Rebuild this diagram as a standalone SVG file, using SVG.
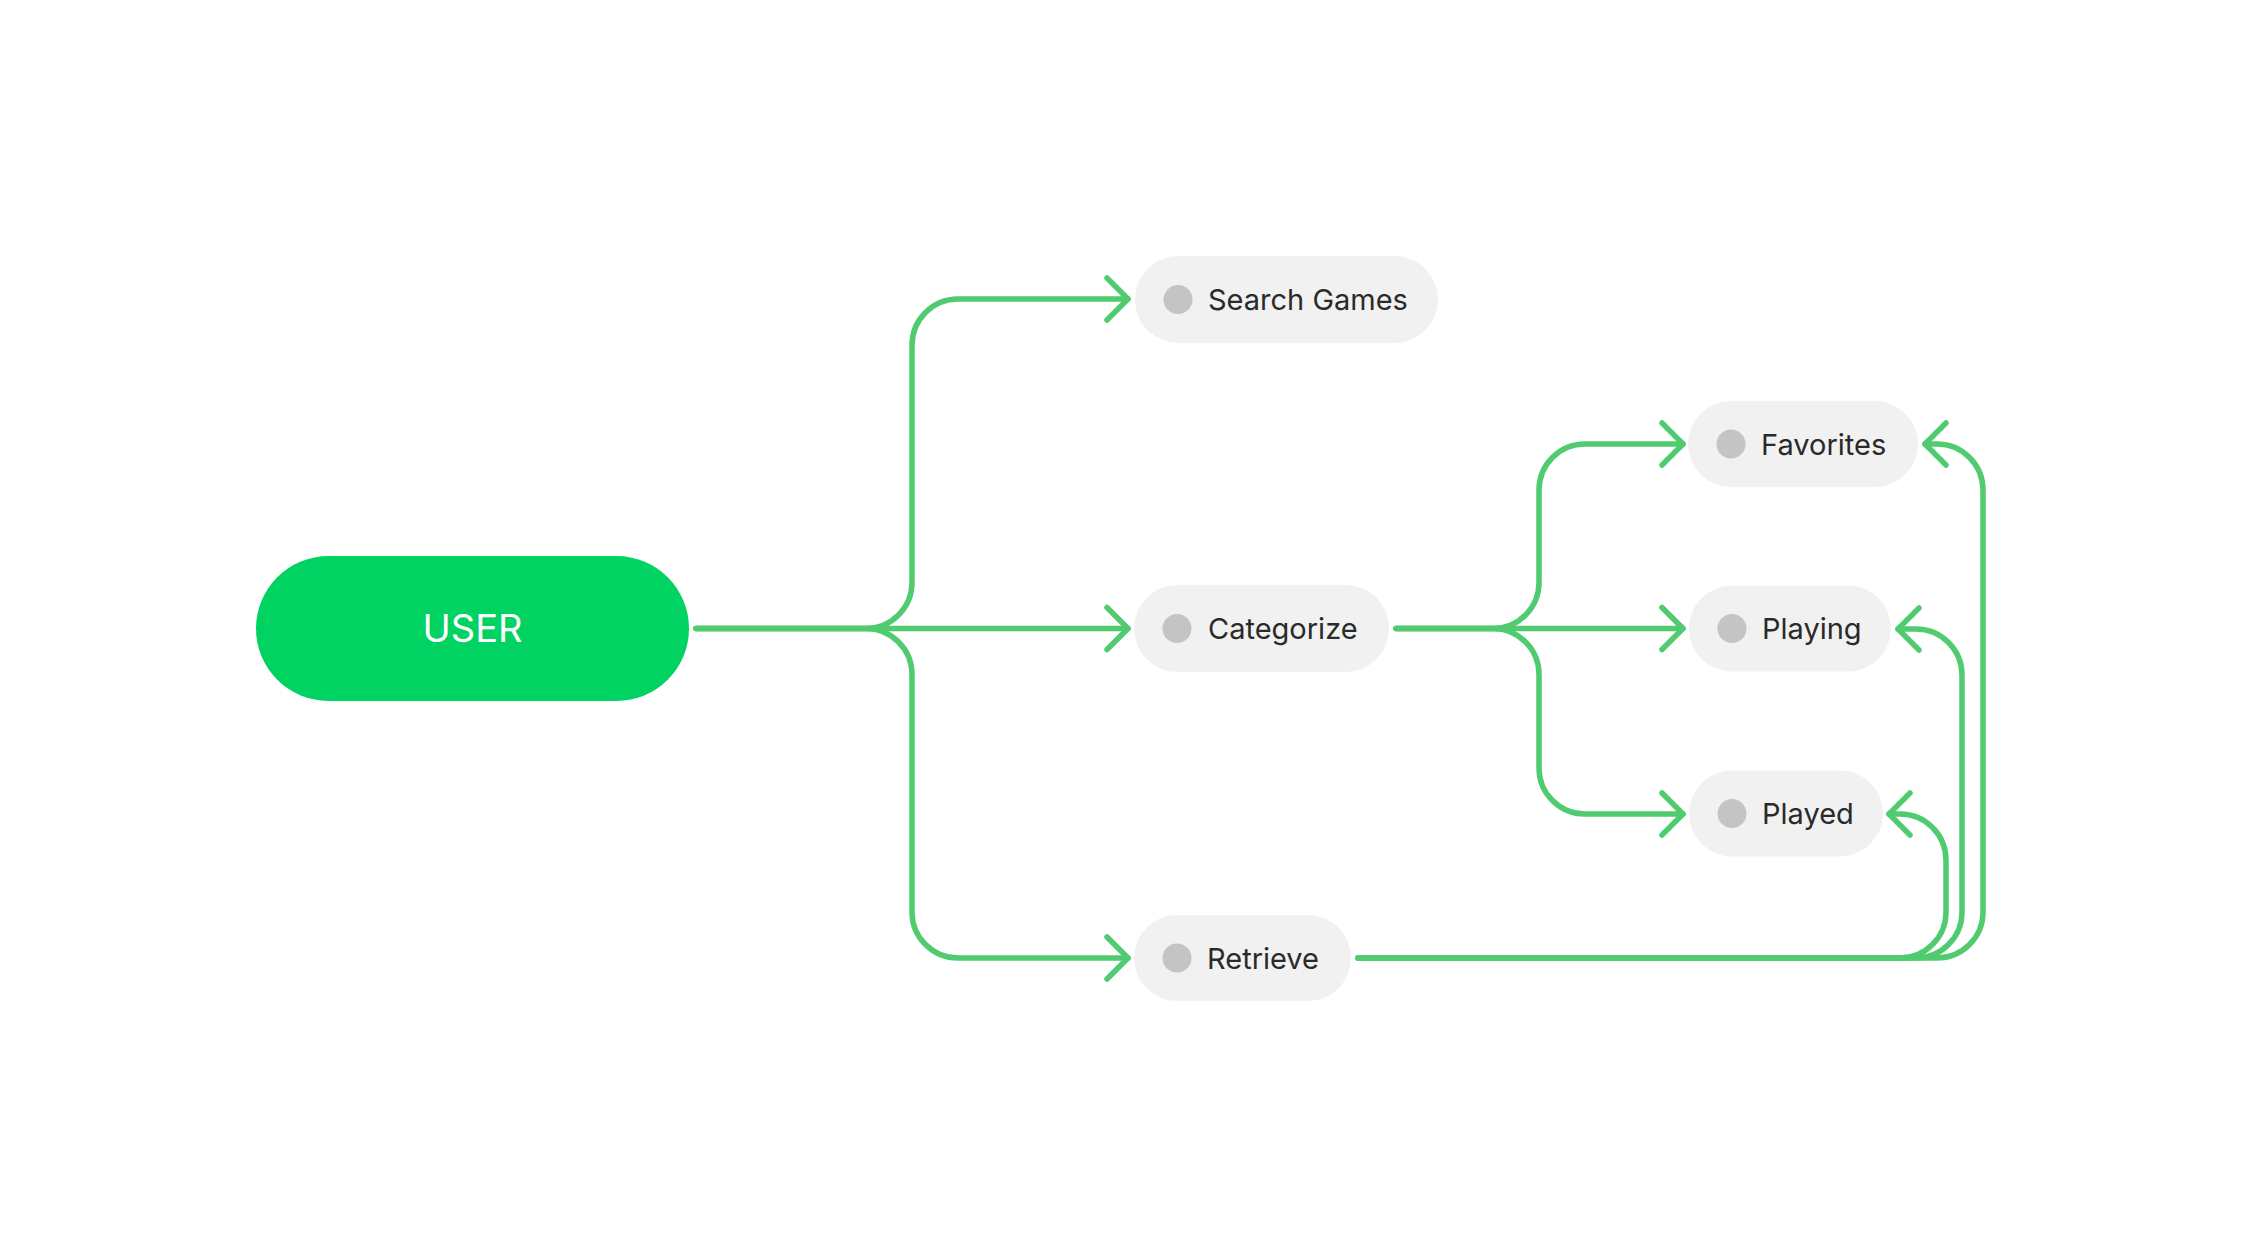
<svg xmlns="http://www.w3.org/2000/svg" width="2244" height="1258" viewBox="0 0 2244 1258">
<style>
.pill{fill:#F1F1F1}
.dot{fill:#C4C4C4}
.lbl{font-family:Inter,"Noto Sans","Liberation Sans",sans-serif;font-size:29px;fill:#2A2A2A}
.con{fill:none;stroke:#50CB70;stroke-width:5.5;stroke-linecap:round;stroke-linejoin:round}
</style>
<defs>
<marker id="arr" markerUnits="userSpaceOnUse" markerWidth="60" markerHeight="60" viewBox="-30 -30 60 60" refX="0" refY="0" orient="auto">
<path d="M-21,-21 L0,0 L-21,21" fill="none" stroke="#50CB70" stroke-width="5.5" stroke-linecap="round" stroke-linejoin="round"/>
</marker>
</defs>
<rect width="2244" height="1258" fill="#FFFFFF"/>
<g id="connectors">
<path class="con" marker-end="url(#arr)" d="M696,628.5 H866 A46,46 0 0 0 912,582.5 V345 A46,46 0 0 1 958,299 H1128"/>
<path class="con" marker-end="url(#arr)" d="M696,628.5 H1128"/>
<path class="con" marker-end="url(#arr)" d="M696,628.5 H866 A46,46 0 0 1 912,674.5 V912 A46,46 0 0 0 958,958 H1128"/>
<path class="con" marker-end="url(#arr)" d="M1396,628.5 H1493 A46,46 0 0 0 1539,582.5 V490 A46,46 0 0 1 1585,444 H1683"/>
<path class="con" marker-end="url(#arr)" d="M1396,628.5 H1683"/>
<path class="con" marker-end="url(#arr)" d="M1396,628.5 H1493 A46,46 0 0 1 1539,674.5 V768 A46,46 0 0 0 1585,814 H1683"/>
<path class="con" marker-end="url(#arr)" d="M1358,958 H1900 A46,46 0 0 0 1946,912 V860 A46,46 0 0 0 1900,814 H1889"/>
<path class="con" marker-end="url(#arr)" d="M1358,958 H1916 A46,46 0 0 0 1962,912 V675 A46,46 0 0 0 1916,629 H1898"/>
<path class="con" marker-end="url(#arr)" d="M1358,958 H1937 A46,46 0 0 0 1983,912 V490 A46,46 0 0 0 1937,444 H1925"/>
</g>
<g id="user">
<rect x="256" y="556" width="433" height="145" rx="72.5" fill="#00D361"/>
<text x="472.5" y="642" text-anchor="middle" font-family="Inter,'Noto Sans','Liberation Sans',sans-serif" font-size="38" font-weight="400" fill="#FFFFFF">USER</text>
</g>
<g id="search-games">
<rect class="pill" x="1135" y="256" width="303" height="87" rx="43.5"/>
<circle class="dot" cx="1178" cy="299.5" r="14.5"/>
<text class="lbl" x="1208" y="310">Search Games</text>
</g>
<g id="categorize">
<rect class="pill" x="1134" y="585" width="255" height="87" rx="43.5"/>
<circle class="dot" cx="1177" cy="628.5" r="14.5"/>
<text class="lbl" x="1208" y="639">Categorize</text>
</g>
<g id="retrieve">
<rect class="pill" x="1134" y="915" width="217" height="86" rx="43"/>
<circle class="dot" cx="1177" cy="958" r="14.5"/>
<text class="lbl" x="1207" y="968.5">Retrieve</text>
</g>
<g id="favorites">
<rect class="pill" x="1688" y="401" width="230" height="86" rx="43"/>
<circle class="dot" cx="1731" cy="444" r="14.5"/>
<text class="lbl" x="1761" y="454.5">Favorites</text>
</g>
<g id="playing">
<rect class="pill" x="1689" y="585.5" width="202" height="86" rx="43"/>
<circle class="dot" cx="1732" cy="628.5" r="14.5"/>
<text class="lbl" x="1762" y="639">Playing</text>
</g>
<g id="played">
<rect class="pill" x="1689" y="770.5" width="194" height="86" rx="43"/>
<circle class="dot" cx="1732" cy="813.5" r="14.5"/>
<text class="lbl" x="1762" y="824">Played</text>
</g>
</svg>
